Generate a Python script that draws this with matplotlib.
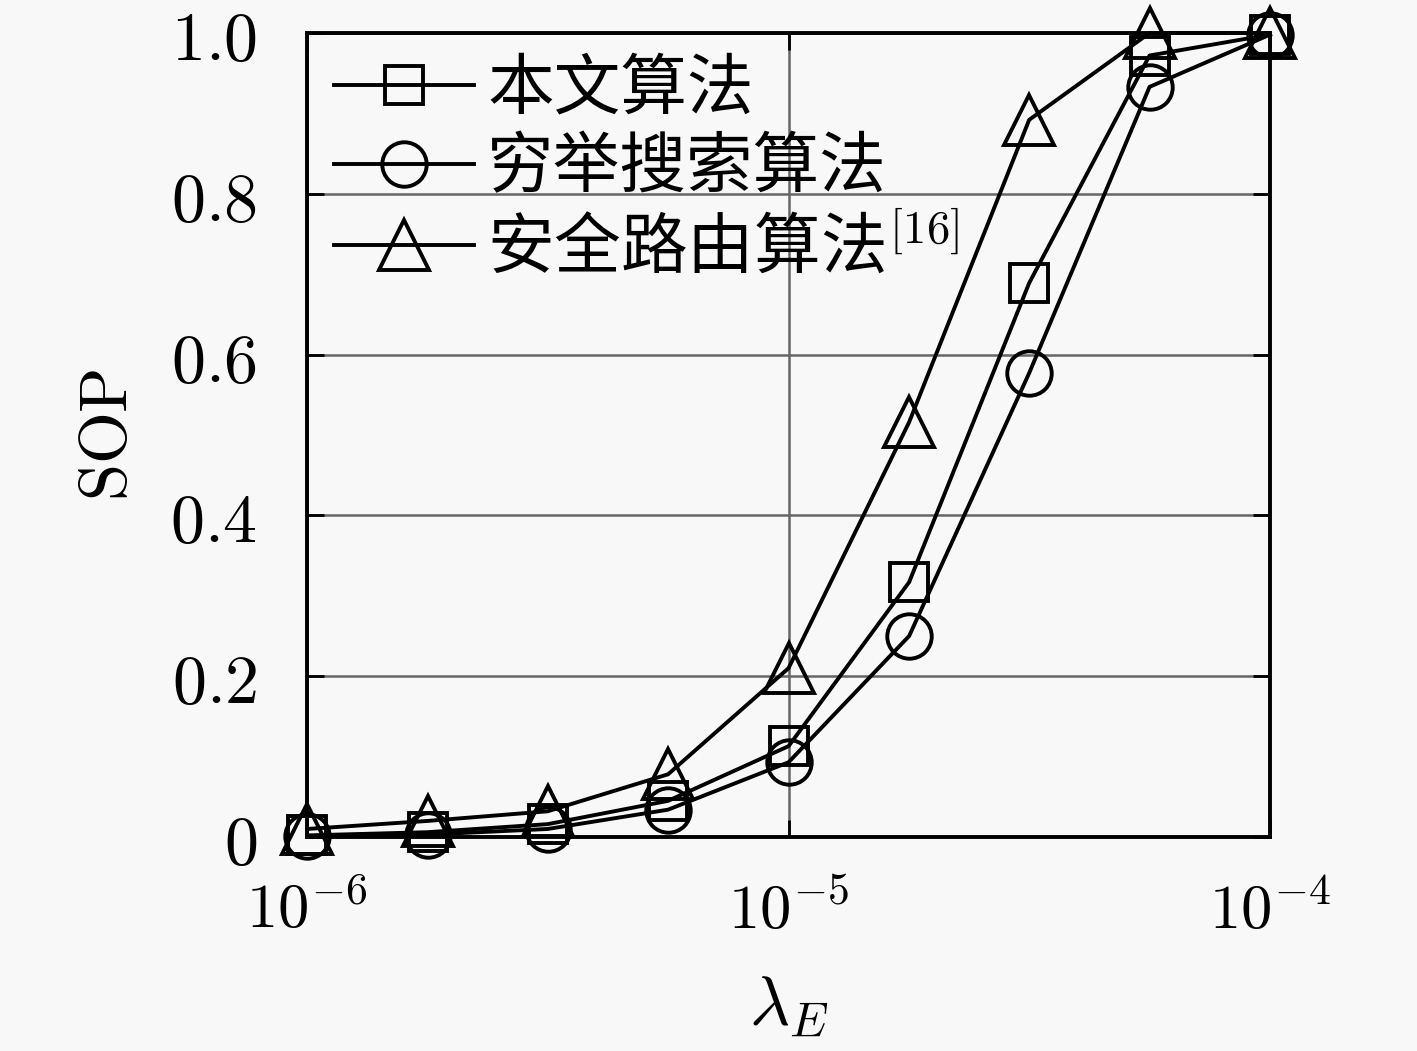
import numpy as np
import matplotlib
matplotlib.use('Agg')
import matplotlib.pyplot as plt
from matplotlib.ticker import FixedLocator, FixedFormatter, NullLocator

plt.rcParams['font.family'] = ['Noto Sans CJK SC', 'DejaVu Sans']
plt.rcParams['mathtext.fontset'] = 'cm'

# data
lam = [1e-6, 1.78e-6, 3.16e-6, 5.62e-6, 1e-5, 1.78e-5, 3.16e-5, 5.62e-5, 1e-4]
sop_proposed = [0.002, 0.006, 0.016, 0.045, 0.113, 0.317, 0.689, 0.972, 0.998]
sop_exhaustive = [0.001, 0.003, 0.010, 0.034, 0.093, 0.250, 0.577, 0.933, 0.998]
sop_secure = [0.010, 0.020, 0.032, 0.078, 0.210, 0.516, 0.892, 1.0, 1.0]
labels = ['本文算法', '穷举搜索算法', '安全路由算法$^{[16]}$']

yticks = [0, 0.2, 0.4, 0.6, 0.8, 1.0]
ytick_labels = ['$0$', '$0.2$', '$0.4$', '$0.6$', '$0.8$', '$1.0$']
xticks = [1e-6, 1e-5, 1e-4]
xtick_labels = ['$10^{-6}$', '$10^{-5}$', '$10^{-4}$']

fig = plt.figure(figsize=(14.17, 10.51), dpi=100)
fig.patch.set_facecolor('#f8f8f8')
ax = fig.add_axes([0.2167, 0.2036, 0.6796, 0.765])
ax.set_facecolor('#f8f8f8')

style = dict(color='black', lw=2.8, markerfacecolor='none', markeredgewidth=2.8,
             clip_on=False, zorder=3)
ax.plot(lam, sop_proposed, marker='s', ms=27, label=labels[0], **style)
ax.plot(lam, sop_exhaustive, marker='o', ms=32, label=labels[1], **style)
ax.plot(lam, sop_secure, marker='^', ms=36, label=labels[2], **style)

ax.set_xscale('log')
ax.set_xlim(1e-6, 1e-4)
ax.set_ylim(0, 1)
ax.xaxis.set_major_locator(FixedLocator(xticks))
ax.xaxis.set_major_formatter(FixedFormatter(xtick_labels))
ax.xaxis.set_minor_locator(NullLocator())
ax.yaxis.set_major_locator(FixedLocator(yticks))
ax.yaxis.set_major_formatter(FixedFormatter(ytick_labels))

ax.grid(True, color='#666666', lw=1.8)
ax.set_axisbelow(True)
ax.tick_params(which='both', direction='in', length=12, width=2,
               top=True, right=True)
ax.tick_params(axis='y', pad=36, labelsize=49)
ax.tick_params(axis='x', pad=30, labelsize=45)
for sp in ax.spines.values():
    sp.set_linewidth(2.8)
    sp.set_zorder(2.5)

ax.set_xlabel(r'$\lambda_E$', fontsize=50, labelpad=20)
ax.set_ylabel(r'$\mathrm{SOP}$', fontsize=48, labelpad=20)

leg = ax.legend(loc='upper left', fontsize=48, frameon=False,
                handlelength=2.1, handletextpad=0.2, labelspacing=0.18,
                borderaxespad=0.0, bbox_to_anchor=(0.0, 1.005))

fig.savefig('out.png', dpi=100, facecolor=fig.get_facecolor())
